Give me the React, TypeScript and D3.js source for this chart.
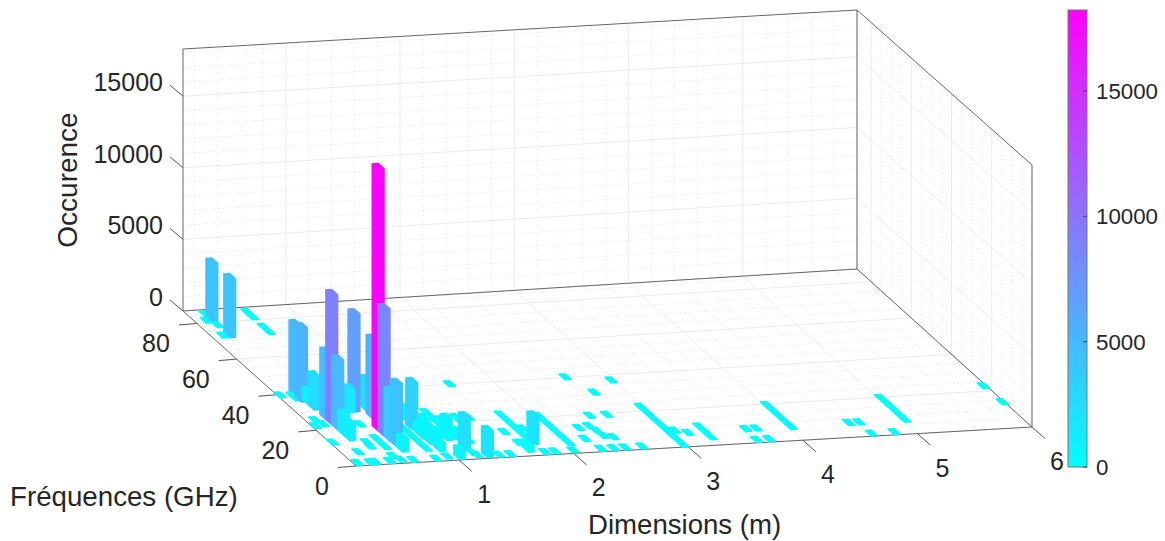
import React from "react";
import * as d3 from "d3";

const xTicks = [1, 2, 3, 4, 5, 6];
const yTicks = [0, 20, 40, 60, 80];
const zTicks = [0, 5000, 10000, 15000];
const cbTicks = [0, 5000, 10000, 15000];

// bar cells: centre in metres, centre in GHz, count
const barX = [0.25, 0.26, 0.26, 0.26, 0.29, 0.29, 0.3, 0.3, 0.3, 0.3, 0.3, 0.6, 0.71, 0.69, 0.625, 0.625, 0.625, 0.63, 0.63, 0.91, 0.94, 1.275, 1.16, 1.77, 0.92, 1.01, 1.17, 1.03, 1.0, 1.02, 1.1, 0.55, 1.18, 1.18, 0.92, 0.93, 0.94, 1.675];
const barY = [81.1, 72.7, 39.9, 36.6, 32, 35, 23.7, 26.7, 20.7, 17.7, 14.7, 29.8, 29.9, 25.9, 19.1, 16.1, 13.1, 10.2, 7.2, 18.6, 22.4, 1.6, 6.6, 7.2, 15.6, 18.3, 18.8, 1.5, 14.4, 12.7, 11.8, 29.4, 16.9, 12.1, 13.1, 10.3, 6.3, 4.2];
const barZ = [4200, 4150, 5000, 5200, 2400, 950, 9050, 4700, 4900, 1500, 1250, 6840, 2200, 5500, 18200, 8860, 3500, 4400, 1000, 3300, 1000, 1900, 2300, 2000, 700, 800, 500, 700, 600, 600, 500, 1700, 900, 600, 900, 700, 600, 400];

// low cells that read as flat patches on the floor
const flatX = [
  2.62, 2.97, 2.72, 2.47, 2.62, 2.27, 2.37, 2.39, 2.4, 2.47, 2.22,
  2.97, 2.97, 2.97, 2.97, 2.97, 2.97, 2.97, 2.97,
  3.03, 3.12, 3.27, 3.27, 3.27, 3.63, 3.72, 3.62, 3.73,
  4.02, 4.02, 4.02, 4.02, 4.02,
  2.26, 2.37, 2.47, 2.62, 2.02, 1.86, 1.77,
  2.05, 2.05, 2.05, 2.05, 2.05, 2.05,
  1.75, 1.75, 1.75, 1.75, 1.75, 1.75,
  1.62, 1.67, 1.64, 1.66, 1.47, 1.37, 1.8,
  5.97, 5.98, 4.53, 4.62, 4.62, 4.82,
  5.02, 5.02, 5.02, 5.02, 5.02,
  1.61,
  1.16, 1.16, 1.16, 1.16, 1.16,
  0.83, 0.83, 0.83, 0.83, 0.83,
  1.17, 1.19, 0.135, 0.245, 0.29, 0.42, 0.49, 0.52, 0.62, 0.82, 0.93, 0.24, 0.4, 0.39, 0.51, 0.51, 0.51, 0.51, 0.13, 0.21, 0.18, 0.12, 0.12, 0.22, 0.22,
  0.25, 0.2, 0.25, 0.2, 0.61, 0.61, 0.61, 0.61,
  1.46, 1.25, 1.36, 1.36,
];
const flatY = [
  40, 36.9, 31.1, 19.1, 19.1, 13.1, 13.7, 11, 8.2, 7.2, 7.2,
  1.2, 4.2, 7.2, 10.2, 13.2, 16.2, 19.2, 22.2,
  8.7, 7.2, 4.2, 7.2, 10.2, 7.4, 7.4, 1.5, 1.5,
  7.2, 10.2, 13.2, 16.2, 19.2,
  1.5, 1.5, 1.5, 1.5, 1.5, 1.5, 1.5,
  5.5, 8.5, 11.5, 14.5, 17.5, 20.5,
  7.5, 10.5, 13.5, 16.5, 19.5, 22.5,
  13.2, 7, 7.1, 3.2, 1.5, 1.5, 14.5,
  22.5, 13.6, 7.5, 7.5, 1.3, 1.4,
  7.5, 10.5, 13.5, 16.5, 19.5,
  40,
  14.2, 17.2, 20.2, 23.2, 26.2,
  6.8, 9.8, 12.8, 15.8, 18.4,
  3.3, 2.1, 1.5, 1.3, 1.5, 1.6, 4.1, 1.8, 1.4, 1.3, 2.1, 7.1, 12.1, 9.7, 14, 11.6, 9, 21.7, 22.2, 22.8, 25.3, 12.9, 39.4, 39, 37.3,
  84.5, 81, 78.3, 72.7, 84.2, 81.4, 75.9, 73.1,
  21.7, 9.7, 22.6, 20,
];
const flatCount = 100;

const X_MIN = 0.1, X_MAX = 6, Y_MAX = 87, Z_MAX = 18300, C_MAX = 18230;
const uScale = d3.scaleLinear().domain([X_MIN, X_MAX]).range([0, 1]);
const vScale = d3.scaleLinear().domain([0, Y_MAX]).range([0, 1]);
const zScale = d3.scaleLinear().domain([0, Z_MAX]).range([0, 1]);
const colour = d3.scaleLinear<string>().domain([0, C_MAX]).range(["#00ffff", "#ff00ff"]);
const cbY = d3.scaleLinear().domain([0, C_MAX]).range([467, 10]);

// floor corners and wall heights in the picture (v = 0 front, v = 1 back)
const FL = [356, 466], FR = [1032, 427], BL = [183, 311], BR = [857, 269];
const HFL = 265, HFR = 262, HBL = 262, HBR = 259;
function lerp(a: number, b: number, t: number) { return a + (b - a) * t; }
function P(x: number, y: number, z: number): [number, number] {
  const u = uScale(x), v = vScale(y);
  const px = lerp(lerp(FL[0], FR[0], u), lerp(BL[0], BR[0], u), v);
  const py = lerp(lerp(FL[1], FR[1], u), lerp(BL[1], BR[1], u), v);
  const h = lerp(lerp(HFL, HFR, u), lerp(HBL, HBR, u), v);
  return [px, py - zScale(z) * h];
}
const seg = (a: [number, number], b: [number, number]) => `M${a[0]},${a[1]}L${b[0]},${b[1]}`;

const HALF_X = 0.03, HALF_Y = 1.6;
type Cell = { x: number; y: number; z: number };
const cells: Cell[] = [
  ...flatX.map((x, i) => ({ x, y: flatY[i], z: flatCount })),
  ...barX.map((x, i) => ({ x, y: barY[i], z: barZ[i] })),
].sort((a, b) => (b.y - a.y) || (b.x - a.x));

function cellPath(c: Cell) {
  const pts: [number, number][] = [];
  for (const x of [c.x - HALF_X, c.x + HALF_X])
    for (const y of [c.y - HALF_Y, c.y + HALF_Y])
      for (const z of [0, c.z]) pts.push(P(x, y, z));
  const hull = d3.polygonHull(pts)!;
  return "M" + hull.map((p) => p.join(",")).join("L") + "Z";
}

const xMajor = d3.range(1, 6.01, 1);
const xMinor = d3.range(0.2, 6.01, 0.2).filter((v) => Math.abs(v - Math.round(v)) > 0.01);
const yMajor = d3.range(0, 81, 20);
const yMinor = d3.range(5, 86, 5).filter((v) => v % 20 !== 0);
const zMajor = d3.range(0, 15001, 5000);
const zMinor = d3.range(1000, 18001, 1000).filter((v) => v % 5000 !== 0);

const majorPath = [
  ...xMajor.map((x) => seg(P(x, 0, 0), P(x, Y_MAX, 0)) + seg(P(x, Y_MAX, 0), P(x, Y_MAX, Z_MAX))),
  ...yMajor.map((y) => seg(P(X_MIN, y, 0), P(X_MAX, y, 0)) + seg(P(X_MAX, y, 0), P(X_MAX, y, Z_MAX))),
  ...zMajor.map((z) => seg(P(X_MIN, Y_MAX, z), P(X_MAX, Y_MAX, z)) + seg(P(X_MAX, Y_MAX, z), P(X_MAX, 0, z))),
].join("");
const minorPath = [
  ...xMinor.map((x) => seg(P(x, 0, 0), P(x, Y_MAX, 0)) + seg(P(x, Y_MAX, 0), P(x, Y_MAX, Z_MAX))),
  ...yMinor.map((y) => seg(P(X_MIN, y, 0), P(X_MAX, y, 0)) + seg(P(X_MAX, y, 0), P(X_MAX, y, Z_MAX))),
  ...zMinor.map((z) => seg(P(X_MIN, Y_MAX, z), P(X_MAX, Y_MAX, z)) + seg(P(X_MAX, Y_MAX, z), P(X_MAX, 0, z))),
].join("");
const boxPath = [
  seg(P(X_MIN, Y_MAX, Z_MAX), P(X_MAX, Y_MAX, Z_MAX)),
  seg(P(X_MAX, Y_MAX, Z_MAX), P(X_MAX, 0, Z_MAX)),
  seg(P(X_MAX, 0, Z_MAX), P(X_MAX, 0, 0)),
  seg(P(X_MIN, Y_MAX, 0), P(X_MIN, Y_MAX, Z_MAX)),
  seg(P(X_MAX, Y_MAX, 0), P(X_MAX, Y_MAX, Z_MAX)),
  seg(P(X_MIN, Y_MAX, 0), P(X_MAX, Y_MAX, 0)),
  seg(P(X_MIN, 0, 0), P(X_MAX, 0, 0)),
  seg(P(X_MIN, 0, 0), P(X_MIN, Y_MAX, 0)),
  seg(P(X_MAX, 0, 0), P(X_MAX, Y_MAX, 0)),
].join("");

const FONT = "'Liberation Sans', Arial, sans-serif";
const TXT = "#262626";
const TICK = "#555";

export default function App() {
  return (
    <svg width={1165} height={541} style={{ position: "absolute", left: 0, top: 0, display: "block" }} fontFamily={FONT}>
      <defs>
        <linearGradient id="cool" x1="0" y1="1" x2="0" y2="0">
          <stop offset="0" stopColor={colour(0)} />
          <stop offset="1" stopColor={colour(C_MAX)} />
        </linearGradient>
      </defs>
      <rect width={1165} height={541} fill="#fff" />
      <path d={minorPath} fill="none" stroke="#e0e0e0" strokeWidth={1} strokeDasharray="1 3" />
      <path d={majorPath} fill="none" stroke="#ebebeb" strokeWidth={1} />
      <path d={boxPath} fill="none" stroke="#666" strokeWidth={1} />

      {zTicks.map((z) => {
        const [a, b] = P(X_MIN, Y_MAX, z);
        return (
          <g key={z}>
            <line x1={a} y1={b} x2={a - 13} y2={b - 11} stroke={TICK} />
            <text x={a - 20} y={b - 5} textAnchor="end" fontSize={25} fill={TXT}>{z}</text>
          </g>
        );
      })}
      {yTicks.map((y) => {
        const [a, b] = P(X_MIN, y, 0);
        return (
          <g key={y}>
            <line x1={a} y1={b} x2={a - 18} y2={b + 1.5} stroke={TICK} />
            <text x={a - 27} y={b + 29} textAnchor="end" fontSize={25} fill={TXT}>{y}</text>
          </g>
        );
      })}
      {xTicks.map((x) => {
        const [a, b] = P(x, 0, 0);
        return (
          <g key={x}>
            <line x1={a} y1={b} x2={a + 13} y2={b + 11.5} stroke={TICK} />
            <text x={a + 25} y={b + 43} textAnchor="middle" fontSize={25} fill={TXT}>{x}</text>
          </g>
        );
      })}

      {cells.map((c, i) => (
        <path key={i} d={cellPath(c)} fill={colour(c.z)} />
      ))}

      <text transform="translate(77,180) rotate(-90)" textAnchor="middle" fontSize={28} fill={TXT}>Occurence</text>
      <text x={10} y={506} fontSize={27.7} fill={TXT}>Fréquences (GHz)</text>
      <text x={588} y={534} fontSize={27.6} fill={TXT}>Dimensions (m)</text>

      <rect x={1068} y={10} width={19} height={457} fill="url(#cool)" stroke="#777" strokeWidth={1} />
      {cbTicks.map((t) => (
        <g key={t}>
          <line x1={1083} x2={1087} y1={cbY(t)} y2={cbY(t)} stroke="#444" />
          <text x={1096} y={cbY(t) + 8} fontSize={22.3} fill={TXT}>{t}</text>
        </g>
      ))}
    </svg>
  );
}
